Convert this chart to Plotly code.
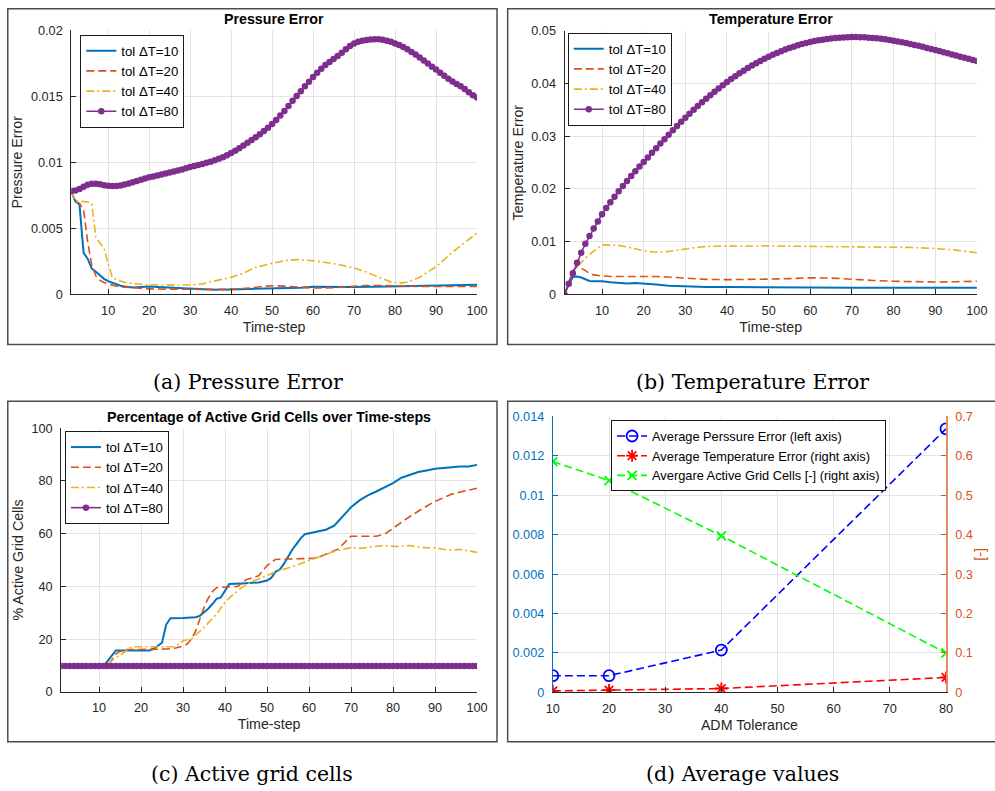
import plotly.graph_objects as go

FONT = "Liberation Sans, Arial, Helvetica, sans-serif"
SERIF = "DejaVu Serif, Liberation Serif, serif"
AXC = "#262626"
GRID = "#e4e4e4"
C_BLUE = "#0072BD"
C_ORANGE = "#D95319"
C_YELLOW = "#EDB120"
C_PURPLE = "#7E2F8E"

series_names = ["tol \u0394T=10", "tol \u0394T=20", "tol \u0394T=40", "tol \u0394T=80"]
steps = list(range(1, 101))
x_ticks_time = [10, 20, 30, 40, 50, 60, 70, 80, 90, 100]

# ---------------- (a) Pressure error ----------------
a_t10 = [1,2,3,4,5,6,7,8,9,10,11,12,13,14,15,16,17,18,19,20,22,25,28,30,33,36,40,45,50,54,57,60,65,70,75,80,85,90,95,100]
a_v10 = [0.0078,0.00705,0.0068,0.00315,0.0027,0.00195,0.00172,0.00142,0.00118,0.001,0.00088,0.00075,0.00066,0.0006,0.00055,0.00052,0.00055,0.00058,0.0006,0.0006,
         0.00057,0.00052,0.00045,0.0004,0.00036,0.00035,0.00038,0.00042,0.00045,0.00045,0.0005,0.00058,0.0006,0.00057,0.00058,0.0006,0.00063,0.00068,0.00071,0.00073]
a_t20 = [1,2,3,4,5,6,7,8,9,10,11,12,14,16,18,20,25,30,35,40,45,48,50,53,57,60,65,70,73,76,80,85,90,95,100]
a_v20 = [0.0078,0.007,0.0069,0.0064,0.004,0.0022,0.0014,0.00106,0.0009,0.0008,0.0007,0.00062,
         0.00055,0.0005,0.00046,0.00042,
         0.0004,0.00038,0.00038,0.0004,0.0005,0.00062,0.00066,0.00063,0.00055,0.00048,
         0.0005,0.00062,0.00068,0.00068,0.00062,0.0006,0.0006,0.0006,0.0006]
a_t40 = [1,2,3,4,5,6,7,8,9,10,11,12,13,14,16,18,20,25,28,30,33,36,40,43,46,50,53,56,60,63,66,70,73,76,79,81,83,86,90,94,97,100]
a_v40 = [0.0078,0.0071,0.00705,0.00705,0.007,0.00685,0.0043,0.0039,0.0035,0.0023,0.0013,0.00112,0.001,0.00092,
         0.00082,0.00077,0.00073,
         0.0007,0.00068,0.00072,0.0008,0.001,0.0013,0.0016,0.00205,0.00235,0.00255,0.00263,0.00255,
         0.00242,0.00228,0.002,0.0017,0.0013,0.00095,0.00085,0.00092,0.0013,0.0021,0.0032,0.00395,0.00465]
a_v80 = [0.00783,0.00786,0.00798,0.00815,0.0083,0.00838,0.00838,0.00833,0.00827,0.00822,
         0.0082,0.0082,0.00825,0.00832,0.0084,0.00849,0.00858,0.00867,0.00877,0.00887,
         0.00893,0.009,0.00907,0.00915,0.00922,0.0093,0.00938,0.00946,0.00955,0.00964,
         0.00972,0.0098,0.00988,0.00996,0.01005,0.01015,0.01026,0.01038,0.01053,0.0107,
         0.01088,0.01107,0.01127,0.01148,0.01168,0.0119,0.01213,0.01237,0.01262,0.0129,
         0.0132,0.01354,0.01389,0.01426,0.01465,0.01502,0.01538,0.01575,0.0161,0.01646,
         0.01678,0.01708,0.01736,0.0176,0.01782,0.01805,0.0183,0.01855,0.0188,0.019,
         0.01912,0.0192,0.01926,0.0193,0.01932,0.01931,0.01927,0.0192,0.01912,0.019,
         0.01887,0.01872,0.01855,0.01835,0.01815,0.01793,0.0177,0.01747,0.01724,0.01702,
         0.01678,0.01655,0.01633,0.01612,0.01593,0.01575,0.01555,0.0153,0.01508,0.0149]
a_yticks = [0, 0.005, 0.01, 0.015, 0.02]
a_yticktext = ["0", "0.005", "0.01", "0.015", "0.02"]

# ---------------- (b) Temperature error ----------------
b_t10 = [1,2,3,4,5,6,7,8,9,10,12,14,16,18,20,23,26,30,35,40,50,60,70,80,90,100]
b_v10 = [0.0,0.0019,0.0033,0.0034,0.0032,0.0028,0.00255,0.0025,0.00255,0.0025,
         0.0023,0.00215,0.00205,0.00215,0.0021,
         0.0019,0.00165,0.0015,0.00142,0.0014,
         0.00142,0.0013,0.00128,0.0013,0.0013,0.00128]
b_t20 = [1,2,3,4,5,6,7,8,9,10,12,15,18,20,23,26,30,35,40,45,50,55,60,65,70,75,80,85,90,95,100]
b_v20 = [0.0,0.0022,0.0045,0.0053,0.005,0.0045,0.004,0.0037,0.00355,0.0035,
         0.0034,0.0034,0.0035,0.0035,
         0.0034,0.0033,0.00305,0.00285,0.0028,0.0028,0.0029,0.003,0.00315,0.0031,0.00285,0.00265,0.0025,0.0024,0.00235,0.0024,0.0025]
b_t40 = [1,2,3,4,5,6,7,8,9,10,12,14,16,18,20,23,26,30,33,36,40,45,50,55,60,65,70,75,80,85,90,95,100]
b_v40 = [0.0,0.002,0.004,0.0053,0.0061,0.007,0.0076,0.0082,0.0088,0.0094,
         0.00935,0.0093,0.009,0.0086,0.0083,
         0.008,0.00815,0.0086,0.00895,0.00915,0.0092,
         0.00925,0.0092,0.00915,0.0091,0.0091,0.00905,0.009,0.0089,0.0089,0.0087,0.0084,0.0079]
b_v80 = [0.0,0.002,0.004,0.006,0.0079,0.0096,0.0111,0.0125,0.01385,0.0152,
         0.0164,0.0175,0.01855,0.01958,0.02057,0.02152,0.02245,0.02335,0.02425,0.02512,
         0.026,0.02688,0.02775,0.02861,0.02946,0.0303,0.03113,0.03194,0.03274,0.03352,
         0.03428,0.03502,0.03574,0.03645,0.03714,0.03781,0.03846,0.03909,0.0397,0.04029,
         0.04086,0.04141,0.04194,0.04245,0.04294,0.04341,0.04386,0.04429,0.0447,0.04509,
         0.04546,0.04581,0.04614,0.04645,0.04674,0.04701,0.04726,0.04749,0.0477,0.04789,
         0.04806,0.04821,0.04834,0.04846,0.04856,0.04864,0.04871,0.04876,0.0488,0.04882,
         0.04882,0.0488,0.04877,0.04872,0.04866,0.04858,0.04849,0.04839,0.04827,0.04814,
         0.048,0.04785,0.04769,0.04752,0.04734,0.04716,0.04697,0.04677,0.04657,0.04637,
         0.04616,0.04595,0.04574,0.04553,0.04532,0.04511,0.0449,0.04469,0.04448,0.04427]
b_yticks = [0, 0.01, 0.02, 0.03, 0.04, 0.05]
b_yticktext = ["0", "0.01", "0.02", "0.03", "0.04", "0.05"]

# ---------------- (c) Active grid cells [%] ----------------
c_t10 = [1,11,12,13,14,16,20,22,23,24,25,26,27,30,33,34,35,36,37,38,39,40,41,45,48,50,51,52,53,54,
         55,56,57,58,59,60,62,64,66,68,70,72,74,76,78,80,82,84,86,88,90,92,94,96,98,100]
c_v10 = [9.8,9.8,11.5,13.8,15.7,15.7,15.7,15.7,16.3,17.3,18.6,25.5,27.9,28.0,28.3,28.8,30.0,31.5,33.3,35.3,
         35.8,38.3,40.9,41.2,41.5,42.2,43.2,45.5,46.3,48.5,51.3,53.9,56.0,58.2,59.8,60.2,60.8,61.5,63.0,66.3,
         70.0,72.6,74.5,76.0,77.5,79.2,81.2,82.3,83.4,84.0,84.6,84.9,85.2,85.5,85.5,86.1]
c_t20 = [1,12,13,14,15,16,18,20,24,26,28,30,31,32,33,34,35,36,37,38,40,43,45,47,48,50,52,55,58,61,
         63,65,67,69,70,73,76,78,80,82,84,86,88,90,92,94,96,98,100]
c_v20 = [9.8,9.8,12.0,14.3,15.3,16.0,16.0,16.0,16.2,16.2,16.5,17.3,18.1,20.0,23.0,27.5,32.0,35.5,38.0,39.5,
         39.6,40.0,42.5,43.5,44.0,47.9,50.2,50.4,50.4,50.6,51.5,52.9,54.2,57.5,59.0,59.0,59.0,59.8,62.0,64.5,
         66.5,68.5,70.5,72.3,73.6,75.0,75.8,76.5,77.2]
c_t40 = [1,12,13,14,15,16,17,18,20,24,28,29,30,32,33,35,37,38,40,42,44,46,48,50,52,55,57,60,63,66,
         70,72,75,78,81,84,87,90,93,96,100]
c_v40 = [9.8,9.8,11.8,12.8,13.8,15.0,16.2,17.1,17.1,17.1,17.1,18.0,19.4,20.1,21.5,24.4,27.8,29.5,34.0,37.0,
         39.5,41.5,42.8,44.2,45.5,47.0,48.0,49.8,51.5,53.3,54.7,54.4,55.0,55.5,55.1,55.5,54.7,54.6,53.8,54.0,52.9]
c_v80 = [9.8,9.8,9.8,9.8,9.8,9.8,9.8,9.8,9.8,9.8,
         9.8,9.8,9.8,9.8,9.8,9.8,9.8,9.8,9.8,9.8,
         9.8,9.8,9.8,9.8,9.8,9.8,9.8,9.8,9.8,9.8,
         9.8,9.8,9.8,9.8,9.8,9.8,9.8,9.8,9.8,9.8,
         9.8,9.8,9.8,9.8,9.8,9.8,9.8,9.8,9.8,9.8,
         9.8,9.8,9.8,9.8,9.8,9.8,9.8,9.8,9.8,9.8,
         9.8,9.8,9.8,9.8,9.8,9.8,9.8,9.8,9.8,9.8,
         9.8,9.8,9.8,9.8,9.8,9.8,9.8,9.8,9.8,9.8,
         9.8,9.8,9.8,9.8,9.8,9.8,9.8,9.8,9.8,9.8,
         9.8,9.8,9.8,9.8,9.8,9.8,9.8,9.8,9.8,9.8]
c_yticks = [0, 20, 40, 60, 80, 100]
c_yticktext = ["0", "20", "40", "60", "80", "100"]

# ---------------- (d) Average values ----------------
d_tol = [10, 20, 40, 80]
d_avg_pressure = [0.00085, 0.00085, 0.00215, 0.01336]
d_avg_temperature = [0.004, 0.006, 0.010, 0.038]
d_avg_cells = [0.585, 0.537, 0.397, 0.100]
d_names = ["Average Perssure Error (left axis)",
           "Average Temperature Error (right axis)",
           "Avergare Active Grid Cells [-] (right axis)"]
d_xticks = [10, 20, 30, 40, 50, 60, 70, 80]
d_yticks = [0, 0.002, 0.004, 0.006, 0.008, 0.01, 0.012, 0.014]
d_yticktext = ["0", "0.002", "0.004", "0.006", "0.008", "0.01", "0.012", "0.014"]
d_y2ticks = [0, 0.1, 0.2, 0.3, 0.4, 0.5, 0.6, 0.7]
d_y2ticktext = ["0", "0.1", "0.2", "0.3", "0.4", "0.5", "0.6", "0.7"]

# ---- layout geometry (reference pixel positions -> figure pixels) ----
W, H = 995, 791
SX, SY = 995 / 1011, 791 / 807
FS = 1.017
def FX(r):
    return r / SX - 8
def FY(r):
    return r / SY - 8
def px(r):
    return FX(r) / W
def py(r):
    return 1 - FY(r) / H

DASH = "8px,4px"
DASHDOT = "8px,3px,2px,3px"
LW = 1.6

fig = go.Figure()

def add_panel(xa, ya, leg, t10, v10, t20, v20, t40, v40, v80):
    fig.add_trace(go.Scatter(x=t10, y=v10, mode="lines", name=series_names[0], xaxis=xa, yaxis=ya,
                             legend=leg, line=dict(color=C_BLUE, width=2)))
    fig.add_trace(go.Scatter(x=t20, y=v20, mode="lines", name=series_names[1], xaxis=xa, yaxis=ya,
                             legend=leg, line=dict(color=C_ORANGE, width=LW, dash=DASH)))
    fig.add_trace(go.Scatter(x=t40, y=v40, mode="lines", name=series_names[2], xaxis=xa, yaxis=ya,
                             legend=leg, line=dict(color=C_YELLOW, width=LW, dash=DASHDOT)))
    fig.add_trace(go.Scatter(x=steps, y=v80, mode="lines+markers", name=series_names[3], xaxis=xa, yaxis=ya,
                             legend=leg, line=dict(color=C_PURPLE, width=LW),
                             marker=dict(color=C_PURPLE, size=6.5, symbol="circle")))

add_panel("x", "y", "legend", a_t10, a_v10, a_t20, a_v20, a_t40, a_v40, a_v80)
add_panel("x2", "y2", "legend2", b_t10, b_v10, b_t20, b_v20, b_t40, b_v40, b_v80)
add_panel("x3", "y3", "legend3", c_t10, c_v10, c_t20, c_v20, c_t40, c_v40, c_v80)

fig.add_trace(go.Scatter(x=d_tol, y=d_avg_pressure, mode="lines+markers", name=d_names[0], xaxis="x4", yaxis="y4",
                         legend="legend4", line=dict(color="#0000FF", width=LW, dash=DASH),
                         marker=dict(symbol="circle-open", size=11, color="#0000FF", line=dict(width=1.8, color="#0000FF"))))
fig.add_trace(go.Scatter(x=d_tol, y=d_avg_temperature, mode="lines+markers", name=d_names[1], xaxis="x4", yaxis="y5",
                         legend="legend4", line=dict(color="#FF0000", width=LW, dash=DASH),
                         marker=dict(symbol="asterisk-open", size=10, color="#FF0000", line=dict(width=1.8, color="#FF0000"))))
fig.add_trace(go.Scatter(x=d_tol, y=d_avg_cells, mode="lines+markers", name=d_names[2], xaxis="x4", yaxis="y5",
                         legend="legend4", line=dict(color="#00FF00", width=LW, dash=DASH),
                         marker=dict(symbol="x-thin-open", size=9, color="#00FF00", line=dict(width=1.8, color="#00FF00"))))

TICK = 12.5 * FS
TITLE = 14 * FS
tickfont = dict(family=FONT, size=TICK, color=AXC)
titlefont = dict(family=FONT, size=TITLE, color=AXC)

def xaxis(domain, anchor, rng, ticks, title):
    return dict(domain=domain, anchor=anchor, range=rng, tickvals=ticks, showgrid=True, gridcolor=GRID,
                gridwidth=1, showline=True, linecolor=AXC, linewidth=1, ticks="inside", ticklen=5,
                tickcolor=AXC, tickfont=tickfont, zeroline=False, ticklabelstandoff=4,
                title=dict(text=title, font=titlefont, standoff=5))

def yaxis(domain, anchor, rng, ticks, ticktext, title, color=AXC, standoff=4):
    return dict(domain=domain, anchor=anchor, range=rng, tickvals=ticks, ticktext=ticktext, showgrid=True,
                gridcolor=GRID, gridwidth=1, showline=True, linecolor=color, linewidth=1, ticks="inside",
                ticklen=5, tickcolor=color, tickfont=dict(family=FONT, size=TICK, color=color), zeroline=False,
                ticklabelstandoff=5, title=dict(text=title, font=dict(family=FONT, size=TITLE, color=color), standoff=standoff))

xa_dom = [px(72.3), px(479)]
xb_dom = [px(566.7), px(980)]
xc_dom = [px(62.2), px(479)]
xd_dom = [px(555), px(949)]
ya_dom = [py(294), py(30)]
yb_dom = [py(294), py(30.7)]
yc_dom = [py(691), py(427.7)]
yd_dom = [py(691.7), py(415.7)]

fig.update_layout(
    width=W, height=H,
    margin=dict(l=0, r=0, t=0, b=0),
    paper_bgcolor="white", plot_bgcolor="white",
    font=dict(family=FONT, color=AXC),
    xaxis=xaxis(xa_dom, "y", [1, 100], x_ticks_time, "Time-step"),
    yaxis=yaxis(ya_dom, "x", [0, 0.02], a_yticks, a_yticktext, "Pressure Error"),
    xaxis2=xaxis(xb_dom, "y2", [1, 100], x_ticks_time, "Time-step"),
    yaxis2=yaxis(yb_dom, "x2", [0, 0.05], b_yticks, b_yticktext, "Temperature Error"),
    xaxis3=xaxis(xc_dom, "y3", [1, 100], x_ticks_time, "Time-step"),
    yaxis3=yaxis(yc_dom, "x3", [0, 100], c_yticks, c_yticktext, "% Active Grid Cells"),
    xaxis4=xaxis(xd_dom, "y4", [10, 80], d_xticks, "ADM Tolerance"),
    yaxis4=yaxis(yd_dom, "x4", [0, 0.014], d_yticks, d_yticktext, "", color=C_BLUE),
    yaxis5=dict(domain=yd_dom, anchor="x4", overlaying="y4", side="right", range=[0, 0.7],
                tickvals=d_y2ticks, ticktext=d_y2ticktext, showgrid=False, showline=True,
                linecolor="#E28C66", linewidth=1.5, ticks="inside", ticklen=5, tickcolor=C_ORANGE,
                tickfont=dict(family=FONT, size=TICK, color=C_ORANGE), zeroline=False, ticklabelstandoff=5,
                title=dict(text="[-]", font=dict(family=FONT, size=TITLE, color=C_ORANGE), standoff=3)),
    showlegend=True,
)

legend_common = dict(bgcolor="white", bordercolor="#1a1a1a", borderwidth=1,
                     xanchor="left", yanchor="top", itemwidth=30, tracegroupgap=0)
leg_font = dict(family=FONT, size=13 * FS, color="#000000")
fig.update_layout(
    legend=dict(x=(FX(120.7) - 40) / W, y=1 - (FY(77) - 43.4) / H, font=leg_font, **legend_common),
    legend2=dict(x=(FX(609.3) - 40) / W, y=1 - (FY(75) - 43.4) / H, font=leg_font, **legend_common),
    legend3=dict(x=(FX(105.3) - 40) / W, y=1 - (FY(473) - 43.4) / H, font=leg_font, **legend_common),
    legend4=dict(x=(FX(652.7) - 40) / W, y=1 - (FY(452.7) - 33.7) / H,
                 font=dict(family=FONT, size=12.6 * FS, color="#000000"), **legend_common),
)

# subplot titles
titles = [("Pressure Error", 275.6, 19), ("Temperature Error", 773.3, 19),
          ("Percentage of Active Grid Cells over Time-steps", 270.6, 416.7)]
for text, x, y in titles:
    fig.add_annotation(text="<b>" + text + "</b>", x=px(x), y=py(y), xref="paper", yref="paper",
                       showarrow=False, xanchor="center", yanchor="middle",
                       font=dict(family=FONT, size=TITLE, color="#000000"))

# captions
captions = [("(a) Pressure Error", 249, 381.5), ("(b) Temperature Error", 755, 381.5),
            ("(c) Active grid cells", 253, 773.5), ("(d) Average values", 745, 773.5)]
for text, x, y in captions:
    fig.add_annotation(text=text, x=px(x), y=py(y), xref="paper", yref="paper", showarrow=False,
                       xanchor="center", yanchor="middle", font=dict(family=SERIF, size=20.5, color="#000000"))

# panel frames (reference pixel boxes; edges outside the drawable area are clamped)
frames = [(7, 4, 499, 344), (509.7, 4, 1012, 344), (7, 400.7, 499, 741), (509.7, 400.7, 1012, 741)]
for x0, y0, x1, y1 in frames:
    fx0 = max(FX(x0), 0.8) / W
    fy1 = 1 - max(FY(y0), 0.8) / H
    fig.add_shape(type="rect", xref="paper", yref="paper", x0=fx0, y0=py(y1), x1=px(x1), y1=fy1,
                  line=dict(color="#4d4d4d", width=1.5), fillcolor="rgba(0,0,0,0)", layer="below")

fig.write_html("out.html", config={"displayModeBar": False},
               post_script="document.body.style.margin='0px';document.body.style.overflow='hidden';")
